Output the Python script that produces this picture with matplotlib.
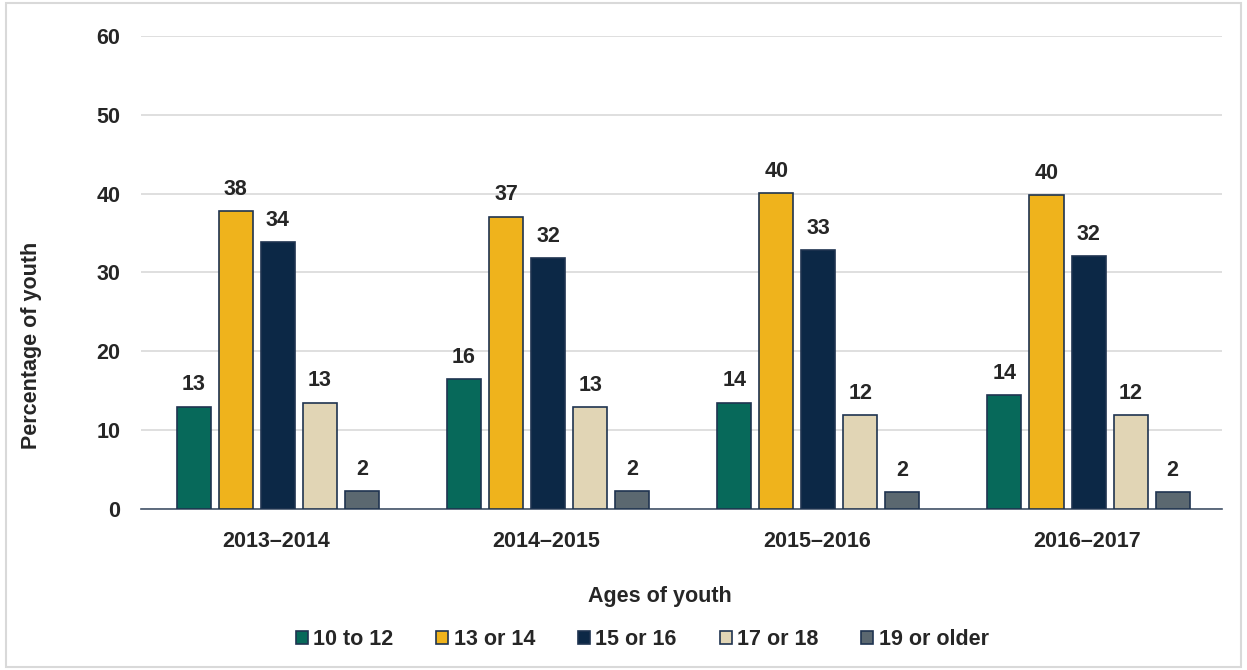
import numpy as np
import matplotlib
matplotlib.use("Agg")
import matplotlib.pyplot as plt
from matplotlib.patches import Rectangle

plt.rcParams['font.family'] = ['Liberation Sans', 'DejaVu Sans']

years = ['2013\u20132014', '2014\u20132015', '2015\u20132016', '2016\u20132017']
age_groups = ['10 to 12', '13 or 14', '15 or 16', '17 or 18', '19 or older']
# percentage of youth, one list per age group (bar heights)
age_10_12 = [13.0, 16.5, 13.5, 14.4]
age_13_14 = [37.8, 37.1, 40.1, 39.8]
age_15_16 = [33.9, 31.8, 32.8, 32.1]
age_17_18 = [13.5, 12.9, 11.9, 11.9]
age_19_up = [2.3, 2.3, 2.1, 2.1]
labels = [
    ['13', '16', '14', '14'],
    ['38', '37', '40', '40'],
    ['34', '32', '33', '32'],
    ['13', '13', '12', '12'],
    ['2', '2', '2', '2'],
]
series = [age_10_12, age_13_14, age_15_16, age_17_18, age_19_up]
colors = ['#07695A', '#EFB31C', '#0C2846', '#E1D5B5', '#5B6870']

fs = 15.5
txt_col = '#262626'

fig = plt.figure(figsize=(12.47, 6.70), dpi=100)
ax = fig.add_axes([0.1131, 0.2403, 0.8669, 0.706])

x = np.arange(len(years))
pitch = 0.1556
width = 0.126
for i, (vals, col) in enumerate(zip(series, colors)):
    pos = x + (i - 2) * pitch + 0.006
    bars = ax.bar(pos, vals, width, color=col, edgecolor='#1F3450',
                  linewidth=1.2, label=age_groups[i], zorder=3)
    for b, txt in zip(bars, labels[i]):
        ax.annotate(txt, (b.get_x() + b.get_width() / 2, b.get_height()),
                    xytext=(0, 8), textcoords='offset points',
                    ha='center', va='bottom', fontsize=fs, fontweight='bold',
                    color=txt_col)

ax.set_xlim(-0.5, 3.5)
ax.set_ylim(0, 60)
ax.set_yticks(range(0, 61, 10))
ax.set_xticks(x)
ax.set_xticklabels(years)
ax.tick_params(axis='both', length=0, labelsize=fs, labelcolor=txt_col)
ax.tick_params(axis='y', pad=15)
ax.tick_params(axis='x', pad=16)
for lab in ax.get_xticklabels() + ax.get_yticklabels():
    lab.set_fontweight('bold')
ax.yaxis.grid(True, color='#D9D9D9', linewidth=1.2, zorder=0)
ax.set_axisbelow(True)
for s in ['left', 'right', 'top']:
    ax.spines[s].set_visible(False)
ax.spines['bottom'].set_color('#44546A')
ax.spines['bottom'].set_linewidth(1.2)

fig.text(0.025, 0.484, 'Percentage of youth', rotation=90, ha='center',
         va='center', fontsize=fs, fontweight='bold', color=txt_col)
fig.text(0.529, 0.109, 'Ages of youth', ha='center', va='center',
         fontsize=fs, fontweight='bold', color=txt_col)

fig.legend(loc='center', bbox_to_anchor=(0.515, 0.045), ncol=5, frameon=False,
           prop={'size': fs, 'weight': 'bold'}, handlelength=0.55,
           handleheight=0.55, handletextpad=0.25, columnspacing=2.0,
           labelcolor=txt_col)

fig.patches.append(Rectangle((0.005, 0.005), 0.99, 0.99, transform=fig.transFigure,
                             fill=False, edgecolor='#D9D9D9', linewidth=1.5))

fig.savefig('out.png', dpi=100, facecolor='white')
